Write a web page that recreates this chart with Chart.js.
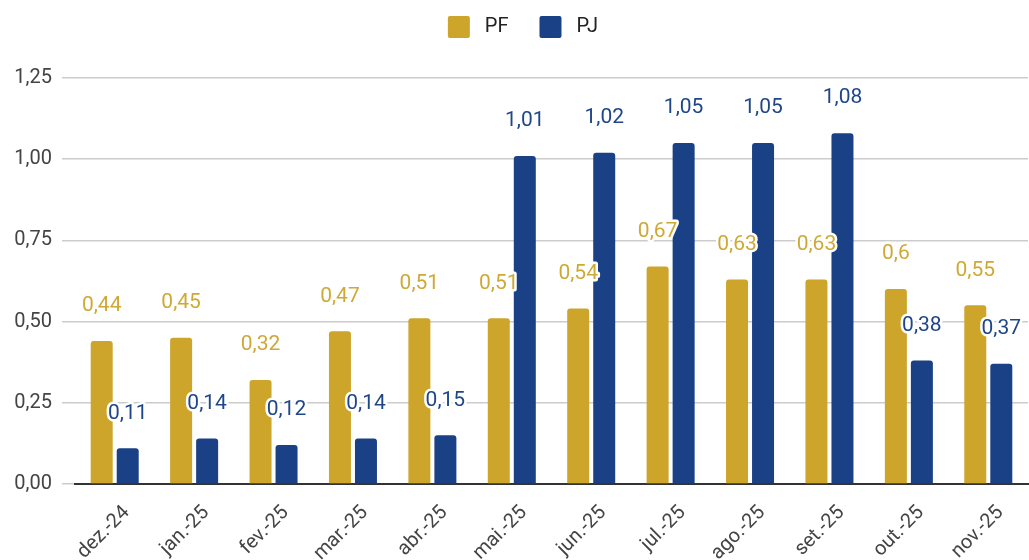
<!DOCTYPE html>
<html>
<head>
<meta charset="utf-8">
<script src="https://cdn.jsdelivr.net/npm/chart.js@4/dist/chart.umd.min.js"></script>
<style>
  html, body { margin: 0; padding: 0; background: #fff; }
  #wrap { width: 1029px; height: 560px; position: relative; }
</style>
</head>
<body>
<div id="wrap"><canvas id="chart"></canvas></div>
<script>
// dados
const categorias = ['dez.-24', 'jan.-25', 'fev.-25', 'mar.-25', 'abr.-25', 'mai.-25',
                    'jun.-25', 'jul.-25', 'ago.-25', 'set.-25', 'out.-25', 'nov.-25'];
const valoresPF = [0.44, 0.45, 0.32, 0.47, 0.51, 0.51, 0.54, 0.67, 0.63, 0.63, 0.6, 0.55];
const valoresPJ = [0.11, 0.14, 0.12, 0.14, 0.15, 1.01, 1.02, 1.05, 1.05, 1.08, 0.38, 0.37];
const ticksY = [0, 0.25, 0.5, 0.75, 1.0, 1.25];

const corPF = '#CDA52B';
const corPJ = '#1A4186';

const fmt = v => String(v).replace('.', ',');

// rótulos de valor com contorno branco
const rotulos = {
    id: 'rotulos',
    afterDatasetsDraw(chart) {
        const ctx = chart.ctx;
        ctx.save();
        ctx.font = '21px Roboto';
        ctx.textAlign = 'center';
        ctx.textBaseline = 'middle';
        ctx.lineJoin = 'round';
        chart.data.datasets.forEach((ds, i) => {
            chart.getDatasetMeta(i).data.forEach((bar, j) => {
                const txt = fmt(ds.data[j]);
                const y = bar.y - 35;
                ctx.lineWidth = 5;
                ctx.strokeStyle = '#fff';
                ctx.strokeText(txt, bar.x, y);
                ctx.fillStyle = ds.labelColor;
                ctx.fillText(txt, bar.x, y);
            });
        });
        ctx.restore();
    }
};

// espaço extra abaixo da legenda e deslocamento da legenda
const espacoLegenda = {
    id: 'espacoLegenda',
    beforeLayout(chart) {
        const lg = chart.legend;
        if (lg && !lg._ajustado) {
            const fit = lg.fit;
            lg.fit = function () { fit.call(this); this.height += 15; };
            lg._ajustado = true;
        }
    },
    afterLayout(chart) {
        const lg = chart.legend;
        lg.left += 9;
        lg.right += 9;
        lg.top -= 15;
        lg.bottom -= 15;
    }
};

new Chart(document.getElementById('chart'), {
    type: 'bar',
    data: {
        labels: categorias,
        datasets: [
            { label: ' PF', data: valoresPF, backgroundColor: corPF, labelColor: '#CFA936',
              borderRadius: 3, borderSkipped: 'start' },
            { label: ' PJ', data: valoresPJ, backgroundColor: corPJ, labelColor: '#1F4689',
              borderRadius: 3, borderSkipped: 'start' }
        ]
    },
    options: {
        responsive: true,
        maintainAspectRatio: false,
        animation: false,
        categoryPercentage: 0.655,
        barPercentage: 0.846,
        layout: { padding: { top: 0, right: 1, left: 0, bottom: 0 } },
        plugins: {
            tooltip: { enabled: false },
            legend: {
                position: 'top',
                labels: {
                    boxWidth: 22,
                    boxHeight: 22,
                    padding: 31,
                    useBorderRadius: true,
                    borderRadius: 2,
                    color: '#222',
                    font: { family: 'Roboto', size: 20 }
                }
            }
        },
        scales: {
            x: {
                grid: { display: false },
                border: { color: '#333', width: 2 },
                ticks: {
                    color: '#444',
                    font: { family: 'Roboto', size: 20 },
                    maxRotation: 45,
                    minRotation: 45,
                    autoSkip: false,
                    labelOffset: 12,
                    padding: 9
                },
                afterFit: s => { s.height = 76; }
            },
            y: {
                min: 0,
                max: 1.25,
                afterBuildTicks: s => { s.ticks = ticksY.map(v => ({ value: v })); },
                grid: { color: '#cccccc', lineWidth: 1.5, tickLength: 13 },
                border: { display: false },
                ticks: {
                    color: '#444',
                    padding: 10,
                    font: { family: 'Roboto', size: 20 },
                    callback: v => v.toFixed(2).replace('.', ',')
                },
                afterFit: s => { s.width = 75; }
            }
        }
    },
    plugins: [rotulos, espacoLegenda]
});
</script>
</body>
</html>
